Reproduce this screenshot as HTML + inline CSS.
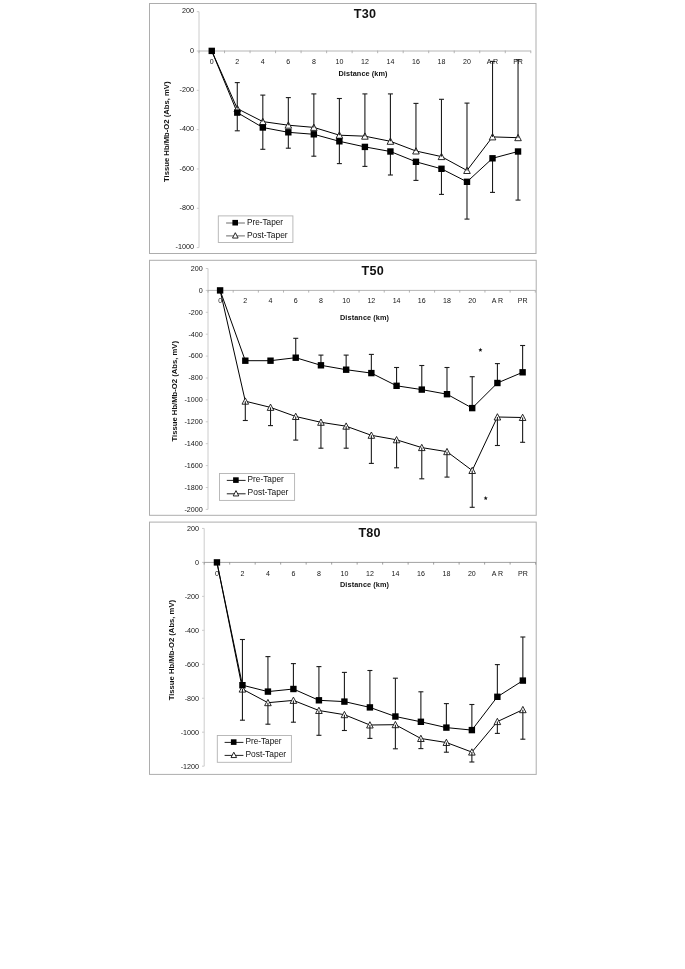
<!DOCTYPE html>
<html><head><meta charset="utf-8"><title>Tissue Hb/Mb-O2 vs Distance</title>
<style>html,body{margin:0;padding:0;background:#fff}body{width:685px;height:969px;overflow:hidden;font-family:"Liberation Sans",sans-serif}</style></head>
<body>
<svg width="685" height="969" viewBox="0 0 685 969" style="display:block;will-change:transform;filter:grayscale(1)">
<rect width="685" height="969" fill="#fff"/>
<rect x="149.5" y="3.5" width="386.50" height="250.00" fill="#fff" stroke="#adadad" stroke-width="1"/>
<line x1="199.0" y1="11.68" x2="199.0" y2="247.60" stroke="#c6c6c6" stroke-width="0.9"/>
<line x1="199.0" y1="51.0" x2="530.8" y2="51.0" stroke="#a8a8a8" stroke-width="0.85"/>
<line x1="196.80" y1="11.68" x2="199.0" y2="11.68" stroke="#c6c6c6" stroke-width="0.9"/>
<text transform="translate(194.00,13.43)" text-anchor="end" font-size="7.2" fill="#141414" font-family="Liberation Sans, sans-serif">200</text>
<line x1="196.80" y1="51.00" x2="199.0" y2="51.00" stroke="#c6c6c6" stroke-width="0.9"/>
<text transform="translate(194.00,52.75)" text-anchor="end" font-size="7.2" fill="#141414" font-family="Liberation Sans, sans-serif">0</text>
<line x1="196.80" y1="90.32" x2="199.0" y2="90.32" stroke="#c6c6c6" stroke-width="0.9"/>
<text transform="translate(194.00,92.07)" text-anchor="end" font-size="7.2" fill="#141414" font-family="Liberation Sans, sans-serif">-200</text>
<line x1="196.80" y1="129.64" x2="199.0" y2="129.64" stroke="#c6c6c6" stroke-width="0.9"/>
<text transform="translate(194.00,131.39)" text-anchor="end" font-size="7.2" fill="#141414" font-family="Liberation Sans, sans-serif">-400</text>
<line x1="196.80" y1="168.96" x2="199.0" y2="168.96" stroke="#c6c6c6" stroke-width="0.9"/>
<text transform="translate(194.00,170.71)" text-anchor="end" font-size="7.2" fill="#141414" font-family="Liberation Sans, sans-serif">-600</text>
<line x1="196.80" y1="208.28" x2="199.0" y2="208.28" stroke="#c6c6c6" stroke-width="0.9"/>
<text transform="translate(194.00,210.03)" text-anchor="end" font-size="7.2" fill="#141414" font-family="Liberation Sans, sans-serif">-800</text>
<line x1="196.80" y1="247.60" x2="199.0" y2="247.60" stroke="#c6c6c6" stroke-width="0.9"/>
<text transform="translate(194.00,249.35)" text-anchor="end" font-size="7.2" fill="#141414" font-family="Liberation Sans, sans-serif">-1000</text>
<line x1="199.00" y1="50.60" x2="199.00" y2="53.20" stroke="#a8a8a8" stroke-width="0.85"/>
<line x1="224.52" y1="50.60" x2="224.52" y2="53.20" stroke="#a8a8a8" stroke-width="0.85"/>
<line x1="250.05" y1="50.60" x2="250.05" y2="53.20" stroke="#a8a8a8" stroke-width="0.85"/>
<line x1="275.57" y1="50.60" x2="275.57" y2="53.20" stroke="#a8a8a8" stroke-width="0.85"/>
<line x1="301.09" y1="50.60" x2="301.09" y2="53.20" stroke="#a8a8a8" stroke-width="0.85"/>
<line x1="326.62" y1="50.60" x2="326.62" y2="53.20" stroke="#a8a8a8" stroke-width="0.85"/>
<line x1="352.14" y1="50.60" x2="352.14" y2="53.20" stroke="#a8a8a8" stroke-width="0.85"/>
<line x1="377.66" y1="50.60" x2="377.66" y2="53.20" stroke="#a8a8a8" stroke-width="0.85"/>
<line x1="403.18" y1="50.60" x2="403.18" y2="53.20" stroke="#a8a8a8" stroke-width="0.85"/>
<line x1="428.71" y1="50.60" x2="428.71" y2="53.20" stroke="#a8a8a8" stroke-width="0.85"/>
<line x1="454.23" y1="50.60" x2="454.23" y2="53.20" stroke="#a8a8a8" stroke-width="0.85"/>
<line x1="479.75" y1="50.60" x2="479.75" y2="53.20" stroke="#a8a8a8" stroke-width="0.85"/>
<line x1="505.28" y1="50.60" x2="505.28" y2="53.20" stroke="#a8a8a8" stroke-width="0.85"/>
<line x1="530.80" y1="50.60" x2="530.80" y2="53.20" stroke="#a8a8a8" stroke-width="0.85"/>
<text transform="translate(211.76,63.70) scale(0.98,1)" text-anchor="middle" font-size="7.2" fill="#141414" font-family="Liberation Sans, sans-serif">0</text>
<text transform="translate(237.28,63.70) scale(0.98,1)" text-anchor="middle" font-size="7.2" fill="#141414" font-family="Liberation Sans, sans-serif">2</text>
<text transform="translate(262.81,63.70) scale(0.98,1)" text-anchor="middle" font-size="7.2" fill="#141414" font-family="Liberation Sans, sans-serif">4</text>
<text transform="translate(288.33,63.70) scale(0.98,1)" text-anchor="middle" font-size="7.2" fill="#141414" font-family="Liberation Sans, sans-serif">6</text>
<text transform="translate(313.85,63.70) scale(0.98,1)" text-anchor="middle" font-size="7.2" fill="#141414" font-family="Liberation Sans, sans-serif">8</text>
<text transform="translate(339.38,63.70) scale(0.98,1)" text-anchor="middle" font-size="7.2" fill="#141414" font-family="Liberation Sans, sans-serif">10</text>
<text transform="translate(364.90,63.70) scale(0.98,1)" text-anchor="middle" font-size="7.2" fill="#141414" font-family="Liberation Sans, sans-serif">12</text>
<text transform="translate(390.42,63.70) scale(0.98,1)" text-anchor="middle" font-size="7.2" fill="#141414" font-family="Liberation Sans, sans-serif">14</text>
<text transform="translate(415.95,63.70) scale(0.98,1)" text-anchor="middle" font-size="7.2" fill="#141414" font-family="Liberation Sans, sans-serif">16</text>
<text transform="translate(441.47,63.70) scale(0.98,1)" text-anchor="middle" font-size="7.2" fill="#141414" font-family="Liberation Sans, sans-serif">18</text>
<text transform="translate(466.99,63.70) scale(0.98,1)" text-anchor="middle" font-size="7.2" fill="#141414" font-family="Liberation Sans, sans-serif">20</text>
<text transform="translate(492.52,63.70) scale(0.98,1)" text-anchor="middle" font-size="7.2" fill="#141414" font-family="Liberation Sans, sans-serif">A R</text>
<text transform="translate(518.04,63.70) scale(0.98,1)" text-anchor="middle" font-size="7.2" fill="#141414" font-family="Liberation Sans, sans-serif">PR</text>
<text x="364.9" y="17.9" text-anchor="middle" font-size="12.6" font-weight="bold" fill="#111" textLength="22.2" lengthAdjust="spacing" font-family="Liberation Sans, sans-serif">T30</text>
<text x="363.0" y="76.1" text-anchor="middle" font-size="7.3" font-weight="bold" fill="#111" textLength="49" lengthAdjust="spacing" font-family="Liberation Sans, sans-serif">Distance (km)</text>
<text transform="translate(169.2,131.7) rotate(-90)" text-anchor="middle" font-size="7.7" font-weight="bold" fill="#111" textLength="100.5" lengthAdjust="spacing" font-family="Liberation Sans, sans-serif">Tissue Hb/Mb-O2 (Abs, mV)</text>
<polyline points="211.76,50.9 237.28,108.6 262.81,121.6 288.33,125.2 313.85,127.4 339.38,135.2 364.90,136.2 390.42,141.3 415.95,151.0 441.47,156.6 466.99,170.5 492.52,136.9 518.04,137.7" fill="none" stroke="#000" stroke-width="1.0" stroke-linejoin="round"/>
<polyline points="211.76,50.9 237.28,112.6 262.81,127.5 288.33,132.3 313.85,134.3 339.38,141.3 364.90,146.9 390.42,151.5 415.95,161.8 441.47,168.8 466.99,181.8 492.52,158.3 518.04,151.5" fill="none" stroke="#000" stroke-width="1.0" stroke-linejoin="round"/>
<path d="M237.28,105.30 L240.58,111.60 L233.98,111.60 Z" fill="#fff" stroke="#111" stroke-width="0.9" stroke-linejoin="miter"/>
<path d="M262.81,118.30 L266.11,124.60 L259.51,124.60 Z" fill="#fff" stroke="#111" stroke-width="0.9" stroke-linejoin="miter"/>
<path d="M288.33,121.90 L291.63,128.20 L285.03,128.20 Z" fill="#fff" stroke="#111" stroke-width="0.9" stroke-linejoin="miter"/>
<path d="M313.85,124.10 L317.15,130.40 L310.55,130.40 Z" fill="#fff" stroke="#111" stroke-width="0.9" stroke-linejoin="miter"/>
<path d="M339.38,131.90 L342.68,138.20 L336.08,138.20 Z" fill="#fff" stroke="#111" stroke-width="0.9" stroke-linejoin="miter"/>
<path d="M364.90,132.90 L368.20,139.20 L361.60,139.20 Z" fill="#fff" stroke="#111" stroke-width="0.9" stroke-linejoin="miter"/>
<path d="M390.42,138.00 L393.72,144.30 L387.12,144.30 Z" fill="#fff" stroke="#111" stroke-width="0.9" stroke-linejoin="miter"/>
<path d="M415.95,147.70 L419.25,154.00 L412.65,154.00 Z" fill="#fff" stroke="#111" stroke-width="0.9" stroke-linejoin="miter"/>
<path d="M441.47,153.30 L444.77,159.60 L438.17,159.60 Z" fill="#fff" stroke="#111" stroke-width="0.9" stroke-linejoin="miter"/>
<path d="M466.99,167.20 L470.29,173.50 L463.69,173.50 Z" fill="#fff" stroke="#111" stroke-width="0.9" stroke-linejoin="miter"/>
<path d="M492.52,133.60 L495.82,139.90 L489.22,139.90 Z" fill="#fff" stroke="#111" stroke-width="0.9" stroke-linejoin="miter"/>
<path d="M518.04,134.40 L521.34,140.70 L514.74,140.70 Z" fill="#fff" stroke="#111" stroke-width="0.9" stroke-linejoin="miter"/>
<line x1="237.28" y1="108.6" x2="237.28" y2="82.6" stroke="#1c1c1c" stroke-width="1.1"/>
<line x1="234.78" y1="82.6" x2="239.78" y2="82.6" stroke="#1c1c1c" stroke-width="1.1"/>
<line x1="237.28" y1="112.6" x2="237.28" y2="130.8" stroke="#1c1c1c" stroke-width="1.1"/>
<line x1="234.78" y1="130.8" x2="239.78" y2="130.8" stroke="#1c1c1c" stroke-width="1.1"/>
<line x1="262.81" y1="121.6" x2="262.81" y2="95.1" stroke="#1c1c1c" stroke-width="1.1"/>
<line x1="260.31" y1="95.1" x2="265.31" y2="95.1" stroke="#1c1c1c" stroke-width="1.1"/>
<line x1="262.81" y1="127.5" x2="262.81" y2="149.3" stroke="#1c1c1c" stroke-width="1.1"/>
<line x1="260.31" y1="149.3" x2="265.31" y2="149.3" stroke="#1c1c1c" stroke-width="1.1"/>
<line x1="288.33" y1="125.2" x2="288.33" y2="97.6" stroke="#1c1c1c" stroke-width="1.1"/>
<line x1="285.83" y1="97.6" x2="290.83" y2="97.6" stroke="#1c1c1c" stroke-width="1.1"/>
<line x1="288.33" y1="132.3" x2="288.33" y2="148.2" stroke="#1c1c1c" stroke-width="1.1"/>
<line x1="285.83" y1="148.2" x2="290.83" y2="148.2" stroke="#1c1c1c" stroke-width="1.1"/>
<line x1="313.85" y1="127.4" x2="313.85" y2="93.9" stroke="#1c1c1c" stroke-width="1.1"/>
<line x1="311.35" y1="93.9" x2="316.35" y2="93.9" stroke="#1c1c1c" stroke-width="1.1"/>
<line x1="313.85" y1="134.3" x2="313.85" y2="156.2" stroke="#1c1c1c" stroke-width="1.1"/>
<line x1="311.35" y1="156.2" x2="316.35" y2="156.2" stroke="#1c1c1c" stroke-width="1.1"/>
<line x1="339.38" y1="135.2" x2="339.38" y2="98.5" stroke="#1c1c1c" stroke-width="1.1"/>
<line x1="336.88" y1="98.5" x2="341.88" y2="98.5" stroke="#1c1c1c" stroke-width="1.1"/>
<line x1="339.38" y1="141.3" x2="339.38" y2="163.6" stroke="#1c1c1c" stroke-width="1.1"/>
<line x1="336.88" y1="163.6" x2="341.88" y2="163.6" stroke="#1c1c1c" stroke-width="1.1"/>
<line x1="364.90" y1="136.2" x2="364.90" y2="93.9" stroke="#1c1c1c" stroke-width="1.1"/>
<line x1="362.40" y1="93.9" x2="367.40" y2="93.9" stroke="#1c1c1c" stroke-width="1.1"/>
<line x1="364.90" y1="146.9" x2="364.90" y2="166.4" stroke="#1c1c1c" stroke-width="1.1"/>
<line x1="362.40" y1="166.4" x2="367.40" y2="166.4" stroke="#1c1c1c" stroke-width="1.1"/>
<line x1="390.42" y1="141.3" x2="390.42" y2="93.9" stroke="#1c1c1c" stroke-width="1.1"/>
<line x1="387.92" y1="93.9" x2="392.92" y2="93.9" stroke="#1c1c1c" stroke-width="1.1"/>
<line x1="390.42" y1="151.5" x2="390.42" y2="175.0" stroke="#1c1c1c" stroke-width="1.1"/>
<line x1="387.92" y1="175.0" x2="392.92" y2="175.0" stroke="#1c1c1c" stroke-width="1.1"/>
<line x1="415.95" y1="151.0" x2="415.95" y2="103.4" stroke="#1c1c1c" stroke-width="1.1"/>
<line x1="413.45" y1="103.4" x2="418.45" y2="103.4" stroke="#1c1c1c" stroke-width="1.1"/>
<line x1="415.95" y1="161.8" x2="415.95" y2="180.4" stroke="#1c1c1c" stroke-width="1.1"/>
<line x1="413.45" y1="180.4" x2="418.45" y2="180.4" stroke="#1c1c1c" stroke-width="1.1"/>
<line x1="441.47" y1="156.6" x2="441.47" y2="99.3" stroke="#1c1c1c" stroke-width="1.1"/>
<line x1="438.97" y1="99.3" x2="443.97" y2="99.3" stroke="#1c1c1c" stroke-width="1.1"/>
<line x1="441.47" y1="168.8" x2="441.47" y2="194.4" stroke="#1c1c1c" stroke-width="1.1"/>
<line x1="438.97" y1="194.4" x2="443.97" y2="194.4" stroke="#1c1c1c" stroke-width="1.1"/>
<line x1="466.99" y1="170.5" x2="466.99" y2="103.1" stroke="#1c1c1c" stroke-width="1.1"/>
<line x1="464.49" y1="103.1" x2="469.49" y2="103.1" stroke="#1c1c1c" stroke-width="1.1"/>
<line x1="466.99" y1="181.8" x2="466.99" y2="219.1" stroke="#1c1c1c" stroke-width="1.1"/>
<line x1="464.49" y1="219.1" x2="469.49" y2="219.1" stroke="#1c1c1c" stroke-width="1.1"/>
<line x1="492.52" y1="136.9" x2="492.52" y2="61.4" stroke="#1c1c1c" stroke-width="1.1"/>
<line x1="490.02" y1="61.4" x2="495.02" y2="61.4" stroke="#1c1c1c" stroke-width="1.1"/>
<line x1="492.52" y1="158.3" x2="492.52" y2="192.4" stroke="#1c1c1c" stroke-width="1.1"/>
<line x1="490.02" y1="192.4" x2="495.02" y2="192.4" stroke="#1c1c1c" stroke-width="1.1"/>
<line x1="518.04" y1="137.7" x2="518.04" y2="59.8" stroke="#1c1c1c" stroke-width="1.1"/>
<line x1="515.54" y1="59.8" x2="520.54" y2="59.8" stroke="#1c1c1c" stroke-width="1.1"/>
<line x1="518.04" y1="151.5" x2="518.04" y2="200.1" stroke="#1c1c1c" stroke-width="1.1"/>
<line x1="515.54" y1="200.1" x2="520.54" y2="200.1" stroke="#1c1c1c" stroke-width="1.1"/>
<rect x="208.56" y="47.70" width="6.4" height="6.4" fill="#000"/>
<rect x="234.08" y="109.40" width="6.4" height="6.4" fill="#000"/>
<rect x="259.61" y="124.30" width="6.4" height="6.4" fill="#000"/>
<rect x="285.13" y="129.10" width="6.4" height="6.4" fill="#000"/>
<rect x="310.65" y="131.10" width="6.4" height="6.4" fill="#000"/>
<rect x="336.18" y="138.10" width="6.4" height="6.4" fill="#000"/>
<rect x="361.70" y="143.70" width="6.4" height="6.4" fill="#000"/>
<rect x="387.22" y="148.30" width="6.4" height="6.4" fill="#000"/>
<rect x="412.75" y="158.60" width="6.4" height="6.4" fill="#000"/>
<rect x="438.27" y="165.60" width="6.4" height="6.4" fill="#000"/>
<rect x="463.79" y="178.60" width="6.4" height="6.4" fill="#000"/>
<rect x="489.32" y="155.10" width="6.4" height="6.4" fill="#000"/>
<rect x="514.84" y="148.30" width="6.4" height="6.4" fill="#000"/>
<rect x="218.3" y="215.9" width="74.60" height="26.60" fill="#fff" stroke="#b2b2b2" stroke-width="0.9"/>
<line x1="226.10000000000002" y1="223.0" x2="244.9" y2="223.0" stroke="#6a6a6a" stroke-width="1"/>
<line x1="226.10000000000002" y1="235.9" x2="244.9" y2="235.9" stroke="#6a6a6a" stroke-width="1"/>
<rect x="232.40" y="219.90" width="5.6" height="5.6" fill="#000"/>
<path d="M235.30,232.69 L238.11,238.05 L232.50,238.05 Z" fill="#fff" stroke="#111" stroke-width="0.9" stroke-linejoin="miter"/>
<text x="246.90" y="224.75" font-size="9" fill="#111" textLength="36.2" lengthAdjust="spacingAndGlyphs" font-family="Liberation Sans, sans-serif">Pre-Taper</text>
<text x="246.90" y="237.50" font-size="9" fill="#111" textLength="40.8" lengthAdjust="spacingAndGlyphs" font-family="Liberation Sans, sans-serif">Post-Taper</text>
<rect x="149.5" y="260.3" width="386.70" height="255.00" fill="#fff" stroke="#adadad" stroke-width="1"/>
<line x1="208.0" y1="268.50" x2="208.0" y2="509.40" stroke="#c6c6c6" stroke-width="0.9"/>
<line x1="208.0" y1="290.4" x2="535.3" y2="290.4" stroke="#a8a8a8" stroke-width="0.85"/>
<line x1="205.80" y1="268.50" x2="208.0" y2="268.50" stroke="#c6c6c6" stroke-width="0.9"/>
<text transform="translate(202.80,270.85)" text-anchor="end" font-size="7.2" fill="#141414" font-family="Liberation Sans, sans-serif">200</text>
<line x1="205.80" y1="290.40" x2="208.0" y2="290.40" stroke="#c6c6c6" stroke-width="0.9"/>
<text transform="translate(202.80,292.75)" text-anchor="end" font-size="7.2" fill="#141414" font-family="Liberation Sans, sans-serif">0</text>
<line x1="205.80" y1="312.30" x2="208.0" y2="312.30" stroke="#c6c6c6" stroke-width="0.9"/>
<text transform="translate(202.80,314.65)" text-anchor="end" font-size="7.2" fill="#141414" font-family="Liberation Sans, sans-serif">-200</text>
<line x1="205.80" y1="334.20" x2="208.0" y2="334.20" stroke="#c6c6c6" stroke-width="0.9"/>
<text transform="translate(202.80,336.55)" text-anchor="end" font-size="7.2" fill="#141414" font-family="Liberation Sans, sans-serif">-400</text>
<line x1="205.80" y1="356.10" x2="208.0" y2="356.10" stroke="#c6c6c6" stroke-width="0.9"/>
<text transform="translate(202.80,358.45)" text-anchor="end" font-size="7.2" fill="#141414" font-family="Liberation Sans, sans-serif">-600</text>
<line x1="205.80" y1="378.00" x2="208.0" y2="378.00" stroke="#c6c6c6" stroke-width="0.9"/>
<text transform="translate(202.80,380.35)" text-anchor="end" font-size="7.2" fill="#141414" font-family="Liberation Sans, sans-serif">-800</text>
<line x1="205.80" y1="399.90" x2="208.0" y2="399.90" stroke="#c6c6c6" stroke-width="0.9"/>
<text transform="translate(202.80,402.25)" text-anchor="end" font-size="7.2" fill="#141414" font-family="Liberation Sans, sans-serif">-1000</text>
<line x1="205.80" y1="421.80" x2="208.0" y2="421.80" stroke="#c6c6c6" stroke-width="0.9"/>
<text transform="translate(202.80,424.15)" text-anchor="end" font-size="7.2" fill="#141414" font-family="Liberation Sans, sans-serif">-1200</text>
<line x1="205.80" y1="443.70" x2="208.0" y2="443.70" stroke="#c6c6c6" stroke-width="0.9"/>
<text transform="translate(202.80,446.05)" text-anchor="end" font-size="7.2" fill="#141414" font-family="Liberation Sans, sans-serif">-1400</text>
<line x1="205.80" y1="465.60" x2="208.0" y2="465.60" stroke="#c6c6c6" stroke-width="0.9"/>
<text transform="translate(202.80,467.95)" text-anchor="end" font-size="7.2" fill="#141414" font-family="Liberation Sans, sans-serif">-1600</text>
<line x1="205.80" y1="487.50" x2="208.0" y2="487.50" stroke="#c6c6c6" stroke-width="0.9"/>
<text transform="translate(202.80,489.85)" text-anchor="end" font-size="7.2" fill="#141414" font-family="Liberation Sans, sans-serif">-1800</text>
<line x1="205.80" y1="509.40" x2="208.0" y2="509.40" stroke="#c6c6c6" stroke-width="0.9"/>
<text transform="translate(202.80,511.75)" text-anchor="end" font-size="7.2" fill="#141414" font-family="Liberation Sans, sans-serif">-2000</text>
<line x1="208.00" y1="290.00" x2="208.00" y2="292.60" stroke="#a8a8a8" stroke-width="0.85"/>
<line x1="233.18" y1="290.00" x2="233.18" y2="292.60" stroke="#a8a8a8" stroke-width="0.85"/>
<line x1="258.35" y1="290.00" x2="258.35" y2="292.60" stroke="#a8a8a8" stroke-width="0.85"/>
<line x1="283.53" y1="290.00" x2="283.53" y2="292.60" stroke="#a8a8a8" stroke-width="0.85"/>
<line x1="308.71" y1="290.00" x2="308.71" y2="292.60" stroke="#a8a8a8" stroke-width="0.85"/>
<line x1="333.88" y1="290.00" x2="333.88" y2="292.60" stroke="#a8a8a8" stroke-width="0.85"/>
<line x1="359.06" y1="290.00" x2="359.06" y2="292.60" stroke="#a8a8a8" stroke-width="0.85"/>
<line x1="384.24" y1="290.00" x2="384.24" y2="292.60" stroke="#a8a8a8" stroke-width="0.85"/>
<line x1="409.42" y1="290.00" x2="409.42" y2="292.60" stroke="#a8a8a8" stroke-width="0.85"/>
<line x1="434.59" y1="290.00" x2="434.59" y2="292.60" stroke="#a8a8a8" stroke-width="0.85"/>
<line x1="459.77" y1="290.00" x2="459.77" y2="292.60" stroke="#a8a8a8" stroke-width="0.85"/>
<line x1="484.95" y1="290.00" x2="484.95" y2="292.60" stroke="#a8a8a8" stroke-width="0.85"/>
<line x1="510.12" y1="290.00" x2="510.12" y2="292.60" stroke="#a8a8a8" stroke-width="0.85"/>
<line x1="535.30" y1="290.00" x2="535.30" y2="292.60" stroke="#a8a8a8" stroke-width="0.85"/>
<text transform="translate(220.10,303.40) scale(0.98,1)" text-anchor="middle" font-size="7.2" fill="#141414" font-family="Liberation Sans, sans-serif">0</text>
<text transform="translate(245.31,303.40) scale(0.98,1)" text-anchor="middle" font-size="7.2" fill="#141414" font-family="Liberation Sans, sans-serif">2</text>
<text transform="translate(270.52,303.40) scale(0.98,1)" text-anchor="middle" font-size="7.2" fill="#141414" font-family="Liberation Sans, sans-serif">4</text>
<text transform="translate(295.73,303.40) scale(0.98,1)" text-anchor="middle" font-size="7.2" fill="#141414" font-family="Liberation Sans, sans-serif">6</text>
<text transform="translate(320.94,303.40) scale(0.98,1)" text-anchor="middle" font-size="7.2" fill="#141414" font-family="Liberation Sans, sans-serif">8</text>
<text transform="translate(346.15,303.40) scale(0.98,1)" text-anchor="middle" font-size="7.2" fill="#141414" font-family="Liberation Sans, sans-serif">10</text>
<text transform="translate(371.36,303.40) scale(0.98,1)" text-anchor="middle" font-size="7.2" fill="#141414" font-family="Liberation Sans, sans-serif">12</text>
<text transform="translate(396.57,303.40) scale(0.98,1)" text-anchor="middle" font-size="7.2" fill="#141414" font-family="Liberation Sans, sans-serif">14</text>
<text transform="translate(421.78,303.40) scale(0.98,1)" text-anchor="middle" font-size="7.2" fill="#141414" font-family="Liberation Sans, sans-serif">16</text>
<text transform="translate(446.99,303.40) scale(0.98,1)" text-anchor="middle" font-size="7.2" fill="#141414" font-family="Liberation Sans, sans-serif">18</text>
<text transform="translate(472.20,303.40) scale(0.98,1)" text-anchor="middle" font-size="7.2" fill="#141414" font-family="Liberation Sans, sans-serif">20</text>
<text transform="translate(497.41,303.40) scale(0.98,1)" text-anchor="middle" font-size="7.2" fill="#141414" font-family="Liberation Sans, sans-serif">A R</text>
<text transform="translate(522.62,303.40) scale(0.98,1)" text-anchor="middle" font-size="7.2" fill="#141414" font-family="Liberation Sans, sans-serif">PR</text>
<text x="372.7" y="275.1" text-anchor="middle" font-size="12.6" font-weight="bold" fill="#111" textLength="22.2" lengthAdjust="spacing" font-family="Liberation Sans, sans-serif">T50</text>
<text x="364.5" y="320.3" text-anchor="middle" font-size="7.3" font-weight="bold" fill="#111" textLength="49" lengthAdjust="spacing" font-family="Liberation Sans, sans-serif">Distance (km)</text>
<text transform="translate(177.2,391.2) rotate(-90)" text-anchor="middle" font-size="7.7" font-weight="bold" fill="#111" textLength="100.5" lengthAdjust="spacing" font-family="Liberation Sans, sans-serif">Tissue Hb/Mb-O2 (Abs, mV)</text>
<polyline points="220.10,290.4 245.31,401.2 270.52,407.4 295.73,416.5 320.94,422.3 346.15,426.2 371.36,435.3 396.57,439.8 421.78,447.6 446.99,451.7 472.20,470.5 497.41,417.0 522.62,417.5" fill="none" stroke="#000" stroke-width="1.0" stroke-linejoin="round"/>
<polyline points="220.10,290.4 245.31,360.7 270.52,360.7 295.73,357.7 320.94,365.3 346.15,369.7 371.36,373.1 396.57,385.8 421.78,389.6 446.99,394.2 472.20,408.1 497.41,383.0 522.62,372.3" fill="none" stroke="#000" stroke-width="1.0" stroke-linejoin="round"/>
<path d="M245.31,397.90 L248.61,404.20 L242.01,404.20 Z" fill="#fff" stroke="#111" stroke-width="0.9" stroke-linejoin="miter"/>
<path d="M270.52,404.10 L273.82,410.40 L267.22,410.40 Z" fill="#fff" stroke="#111" stroke-width="0.9" stroke-linejoin="miter"/>
<path d="M295.73,413.20 L299.03,419.50 L292.43,419.50 Z" fill="#fff" stroke="#111" stroke-width="0.9" stroke-linejoin="miter"/>
<path d="M320.94,419.00 L324.24,425.30 L317.64,425.30 Z" fill="#fff" stroke="#111" stroke-width="0.9" stroke-linejoin="miter"/>
<path d="M346.15,422.90 L349.45,429.20 L342.85,429.20 Z" fill="#fff" stroke="#111" stroke-width="0.9" stroke-linejoin="miter"/>
<path d="M371.36,432.00 L374.66,438.30 L368.06,438.30 Z" fill="#fff" stroke="#111" stroke-width="0.9" stroke-linejoin="miter"/>
<path d="M396.57,436.50 L399.87,442.80 L393.27,442.80 Z" fill="#fff" stroke="#111" stroke-width="0.9" stroke-linejoin="miter"/>
<path d="M421.78,444.30 L425.08,450.60 L418.48,450.60 Z" fill="#fff" stroke="#111" stroke-width="0.9" stroke-linejoin="miter"/>
<path d="M446.99,448.40 L450.29,454.70 L443.69,454.70 Z" fill="#fff" stroke="#111" stroke-width="0.9" stroke-linejoin="miter"/>
<path d="M472.20,467.20 L475.50,473.50 L468.90,473.50 Z" fill="#fff" stroke="#111" stroke-width="0.9" stroke-linejoin="miter"/>
<path d="M497.41,413.70 L500.71,420.00 L494.11,420.00 Z" fill="#fff" stroke="#111" stroke-width="0.9" stroke-linejoin="miter"/>
<path d="M522.62,414.20 L525.92,420.50 L519.32,420.50 Z" fill="#fff" stroke="#111" stroke-width="0.9" stroke-linejoin="miter"/>
<line x1="245.31" y1="401.2" x2="245.31" y2="420.5" stroke="#1c1c1c" stroke-width="1.1"/>
<line x1="242.81" y1="420.5" x2="247.81" y2="420.5" stroke="#1c1c1c" stroke-width="1.1"/>
<line x1="270.52" y1="407.4" x2="270.52" y2="425.6" stroke="#1c1c1c" stroke-width="1.1"/>
<line x1="268.02" y1="425.6" x2="273.02" y2="425.6" stroke="#1c1c1c" stroke-width="1.1"/>
<line x1="295.73" y1="357.7" x2="295.73" y2="338.3" stroke="#1c1c1c" stroke-width="1.1"/>
<line x1="293.23" y1="338.3" x2="298.23" y2="338.3" stroke="#1c1c1c" stroke-width="1.1"/>
<line x1="295.73" y1="416.5" x2="295.73" y2="440.1" stroke="#1c1c1c" stroke-width="1.1"/>
<line x1="293.23" y1="440.1" x2="298.23" y2="440.1" stroke="#1c1c1c" stroke-width="1.1"/>
<line x1="320.94" y1="365.3" x2="320.94" y2="355.1" stroke="#1c1c1c" stroke-width="1.1"/>
<line x1="318.44" y1="355.1" x2="323.44" y2="355.1" stroke="#1c1c1c" stroke-width="1.1"/>
<line x1="320.94" y1="422.3" x2="320.94" y2="448.2" stroke="#1c1c1c" stroke-width="1.1"/>
<line x1="318.44" y1="448.2" x2="323.44" y2="448.2" stroke="#1c1c1c" stroke-width="1.1"/>
<line x1="346.15" y1="369.7" x2="346.15" y2="355.1" stroke="#1c1c1c" stroke-width="1.1"/>
<line x1="343.65" y1="355.1" x2="348.65" y2="355.1" stroke="#1c1c1c" stroke-width="1.1"/>
<line x1="346.15" y1="426.2" x2="346.15" y2="448.2" stroke="#1c1c1c" stroke-width="1.1"/>
<line x1="343.65" y1="448.2" x2="348.65" y2="448.2" stroke="#1c1c1c" stroke-width="1.1"/>
<line x1="371.36" y1="373.1" x2="371.36" y2="354.4" stroke="#1c1c1c" stroke-width="1.1"/>
<line x1="368.86" y1="354.4" x2="373.86" y2="354.4" stroke="#1c1c1c" stroke-width="1.1"/>
<line x1="371.36" y1="435.3" x2="371.36" y2="463.4" stroke="#1c1c1c" stroke-width="1.1"/>
<line x1="368.86" y1="463.4" x2="373.86" y2="463.4" stroke="#1c1c1c" stroke-width="1.1"/>
<line x1="396.57" y1="385.8" x2="396.57" y2="367.5" stroke="#1c1c1c" stroke-width="1.1"/>
<line x1="394.07" y1="367.5" x2="399.07" y2="367.5" stroke="#1c1c1c" stroke-width="1.1"/>
<line x1="396.57" y1="439.8" x2="396.57" y2="467.8" stroke="#1c1c1c" stroke-width="1.1"/>
<line x1="394.07" y1="467.8" x2="399.07" y2="467.8" stroke="#1c1c1c" stroke-width="1.1"/>
<line x1="421.78" y1="389.6" x2="421.78" y2="365.5" stroke="#1c1c1c" stroke-width="1.1"/>
<line x1="419.28" y1="365.5" x2="424.28" y2="365.5" stroke="#1c1c1c" stroke-width="1.1"/>
<line x1="421.78" y1="447.6" x2="421.78" y2="478.8" stroke="#1c1c1c" stroke-width="1.1"/>
<line x1="419.28" y1="478.8" x2="424.28" y2="478.8" stroke="#1c1c1c" stroke-width="1.1"/>
<line x1="446.99" y1="394.2" x2="446.99" y2="367.5" stroke="#1c1c1c" stroke-width="1.1"/>
<line x1="444.49" y1="367.5" x2="449.49" y2="367.5" stroke="#1c1c1c" stroke-width="1.1"/>
<line x1="446.99" y1="451.7" x2="446.99" y2="477.1" stroke="#1c1c1c" stroke-width="1.1"/>
<line x1="444.49" y1="477.1" x2="449.49" y2="477.1" stroke="#1c1c1c" stroke-width="1.1"/>
<line x1="472.20" y1="408.1" x2="472.20" y2="376.7" stroke="#1c1c1c" stroke-width="1.1"/>
<line x1="469.70" y1="376.7" x2="474.70" y2="376.7" stroke="#1c1c1c" stroke-width="1.1"/>
<line x1="472.20" y1="470.5" x2="472.20" y2="507.3" stroke="#1c1c1c" stroke-width="1.1"/>
<line x1="469.70" y1="507.3" x2="474.70" y2="507.3" stroke="#1c1c1c" stroke-width="1.1"/>
<line x1="497.41" y1="383.0" x2="497.41" y2="363.6" stroke="#1c1c1c" stroke-width="1.1"/>
<line x1="494.91" y1="363.6" x2="499.91" y2="363.6" stroke="#1c1c1c" stroke-width="1.1"/>
<line x1="497.41" y1="417.0" x2="497.41" y2="445.5" stroke="#1c1c1c" stroke-width="1.1"/>
<line x1="494.91" y1="445.5" x2="499.91" y2="445.5" stroke="#1c1c1c" stroke-width="1.1"/>
<line x1="522.62" y1="372.3" x2="522.62" y2="345.5" stroke="#1c1c1c" stroke-width="1.1"/>
<line x1="520.12" y1="345.5" x2="525.12" y2="345.5" stroke="#1c1c1c" stroke-width="1.1"/>
<line x1="522.62" y1="417.5" x2="522.62" y2="442.3" stroke="#1c1c1c" stroke-width="1.1"/>
<line x1="520.12" y1="442.3" x2="525.12" y2="442.3" stroke="#1c1c1c" stroke-width="1.1"/>
<rect x="216.90" y="287.20" width="6.4" height="6.4" fill="#000"/>
<rect x="242.11" y="357.50" width="6.4" height="6.4" fill="#000"/>
<rect x="267.32" y="357.50" width="6.4" height="6.4" fill="#000"/>
<rect x="292.53" y="354.50" width="6.4" height="6.4" fill="#000"/>
<rect x="317.74" y="362.10" width="6.4" height="6.4" fill="#000"/>
<rect x="342.95" y="366.50" width="6.4" height="6.4" fill="#000"/>
<rect x="368.16" y="369.90" width="6.4" height="6.4" fill="#000"/>
<rect x="393.37" y="382.60" width="6.4" height="6.4" fill="#000"/>
<rect x="418.58" y="386.40" width="6.4" height="6.4" fill="#000"/>
<rect x="443.79" y="391.00" width="6.4" height="6.4" fill="#000"/>
<rect x="469.00" y="404.90" width="6.4" height="6.4" fill="#000"/>
<rect x="494.21" y="379.80" width="6.4" height="6.4" fill="#000"/>
<rect x="519.42" y="369.10" width="6.4" height="6.4" fill="#000"/>
<rect x="219.5" y="473.5" width="75.10" height="26.90" fill="#fff" stroke="#b2b2b2" stroke-width="0.9"/>
<line x1="226.8" y1="480.4" x2="245.6" y2="480.4" stroke="#222" stroke-width="1"/>
<line x1="226.8" y1="493.8" x2="245.6" y2="493.8" stroke="#222" stroke-width="1"/>
<rect x="233.10" y="477.30" width="5.6" height="5.6" fill="#000"/>
<path d="M236.00,490.60 L238.81,495.95 L233.19,495.95 Z" fill="#fff" stroke="#111" stroke-width="0.9" stroke-linejoin="miter"/>
<text x="247.60" y="482.15" font-size="9" fill="#111" textLength="36.2" lengthAdjust="spacingAndGlyphs" font-family="Liberation Sans, sans-serif">Pre-Taper</text>
<text x="247.60" y="495.40" font-size="9" fill="#111" textLength="40.8" lengthAdjust="spacingAndGlyphs" font-family="Liberation Sans, sans-serif">Post-Taper</text>
<polygon points="480.40,347.80 480.99,349.14 482.44,349.29 481.35,350.26 481.66,351.69 480.40,350.95 479.14,351.69 479.45,350.26 478.36,349.29 479.81,349.14" fill="#111"/>
<polygon points="485.70,496.10 486.29,497.44 487.74,497.59 486.65,498.56 486.96,499.99 485.70,499.25 484.44,499.99 484.75,498.56 483.66,497.59 485.11,497.44" fill="#111"/>
<rect x="149.5" y="522.1" width="386.70" height="252.30" fill="#fff" stroke="#adadad" stroke-width="1"/>
<line x1="204.2" y1="528.44" x2="204.2" y2="766.16" stroke="#c6c6c6" stroke-width="0.9"/>
<line x1="204.2" y1="562.4" x2="535.6" y2="562.4" stroke="#909090" stroke-width="0.85"/>
<line x1="202.00" y1="528.44" x2="204.2" y2="528.44" stroke="#c6c6c6" stroke-width="0.9"/>
<text transform="translate(199.10,530.79)" text-anchor="end" font-size="7.2" fill="#141414" font-family="Liberation Sans, sans-serif">200</text>
<line x1="202.00" y1="562.40" x2="204.2" y2="562.40" stroke="#c6c6c6" stroke-width="0.9"/>
<text transform="translate(199.10,564.75)" text-anchor="end" font-size="7.2" fill="#141414" font-family="Liberation Sans, sans-serif">0</text>
<line x1="202.00" y1="596.36" x2="204.2" y2="596.36" stroke="#c6c6c6" stroke-width="0.9"/>
<text transform="translate(199.10,598.71)" text-anchor="end" font-size="7.2" fill="#141414" font-family="Liberation Sans, sans-serif">-200</text>
<line x1="202.00" y1="630.32" x2="204.2" y2="630.32" stroke="#c6c6c6" stroke-width="0.9"/>
<text transform="translate(199.10,632.67)" text-anchor="end" font-size="7.2" fill="#141414" font-family="Liberation Sans, sans-serif">-400</text>
<line x1="202.00" y1="664.28" x2="204.2" y2="664.28" stroke="#c6c6c6" stroke-width="0.9"/>
<text transform="translate(199.10,666.63)" text-anchor="end" font-size="7.2" fill="#141414" font-family="Liberation Sans, sans-serif">-600</text>
<line x1="202.00" y1="698.24" x2="204.2" y2="698.24" stroke="#c6c6c6" stroke-width="0.9"/>
<text transform="translate(199.10,700.59)" text-anchor="end" font-size="7.2" fill="#141414" font-family="Liberation Sans, sans-serif">-800</text>
<line x1="202.00" y1="732.20" x2="204.2" y2="732.20" stroke="#c6c6c6" stroke-width="0.9"/>
<text transform="translate(199.10,734.55)" text-anchor="end" font-size="7.2" fill="#141414" font-family="Liberation Sans, sans-serif">-1000</text>
<line x1="202.00" y1="766.16" x2="204.2" y2="766.16" stroke="#c6c6c6" stroke-width="0.9"/>
<text transform="translate(199.10,768.51)" text-anchor="end" font-size="7.2" fill="#141414" font-family="Liberation Sans, sans-serif">-1200</text>
<line x1="204.20" y1="562.00" x2="204.20" y2="564.60" stroke="#909090" stroke-width="0.85"/>
<line x1="229.69" y1="562.00" x2="229.69" y2="564.60" stroke="#909090" stroke-width="0.85"/>
<line x1="255.18" y1="562.00" x2="255.18" y2="564.60" stroke="#909090" stroke-width="0.85"/>
<line x1="280.68" y1="562.00" x2="280.68" y2="564.60" stroke="#909090" stroke-width="0.85"/>
<line x1="306.17" y1="562.00" x2="306.17" y2="564.60" stroke="#909090" stroke-width="0.85"/>
<line x1="331.66" y1="562.00" x2="331.66" y2="564.60" stroke="#909090" stroke-width="0.85"/>
<line x1="357.15" y1="562.00" x2="357.15" y2="564.60" stroke="#909090" stroke-width="0.85"/>
<line x1="382.65" y1="562.00" x2="382.65" y2="564.60" stroke="#909090" stroke-width="0.85"/>
<line x1="408.14" y1="562.00" x2="408.14" y2="564.60" stroke="#909090" stroke-width="0.85"/>
<line x1="433.63" y1="562.00" x2="433.63" y2="564.60" stroke="#909090" stroke-width="0.85"/>
<line x1="459.12" y1="562.00" x2="459.12" y2="564.60" stroke="#909090" stroke-width="0.85"/>
<line x1="484.62" y1="562.00" x2="484.62" y2="564.60" stroke="#909090" stroke-width="0.85"/>
<line x1="510.11" y1="562.00" x2="510.11" y2="564.60" stroke="#909090" stroke-width="0.85"/>
<line x1="535.60" y1="562.00" x2="535.60" y2="564.60" stroke="#909090" stroke-width="0.85"/>
<text transform="translate(216.95,575.70) scale(0.98,1)" text-anchor="middle" font-size="7.2" fill="#141414" font-family="Liberation Sans, sans-serif">0</text>
<text transform="translate(242.44,575.70) scale(0.98,1)" text-anchor="middle" font-size="7.2" fill="#141414" font-family="Liberation Sans, sans-serif">2</text>
<text transform="translate(267.93,575.70) scale(0.98,1)" text-anchor="middle" font-size="7.2" fill="#141414" font-family="Liberation Sans, sans-serif">4</text>
<text transform="translate(293.42,575.70) scale(0.98,1)" text-anchor="middle" font-size="7.2" fill="#141414" font-family="Liberation Sans, sans-serif">6</text>
<text transform="translate(318.92,575.70) scale(0.98,1)" text-anchor="middle" font-size="7.2" fill="#141414" font-family="Liberation Sans, sans-serif">8</text>
<text transform="translate(344.41,575.70) scale(0.98,1)" text-anchor="middle" font-size="7.2" fill="#141414" font-family="Liberation Sans, sans-serif">10</text>
<text transform="translate(369.90,575.70) scale(0.98,1)" text-anchor="middle" font-size="7.2" fill="#141414" font-family="Liberation Sans, sans-serif">12</text>
<text transform="translate(395.39,575.70) scale(0.98,1)" text-anchor="middle" font-size="7.2" fill="#141414" font-family="Liberation Sans, sans-serif">14</text>
<text transform="translate(420.88,575.70) scale(0.98,1)" text-anchor="middle" font-size="7.2" fill="#141414" font-family="Liberation Sans, sans-serif">16</text>
<text transform="translate(446.38,575.70) scale(0.98,1)" text-anchor="middle" font-size="7.2" fill="#141414" font-family="Liberation Sans, sans-serif">18</text>
<text transform="translate(471.87,575.70) scale(0.98,1)" text-anchor="middle" font-size="7.2" fill="#141414" font-family="Liberation Sans, sans-serif">20</text>
<text transform="translate(497.36,575.70) scale(0.98,1)" text-anchor="middle" font-size="7.2" fill="#141414" font-family="Liberation Sans, sans-serif">A R</text>
<text transform="translate(522.85,575.70) scale(0.98,1)" text-anchor="middle" font-size="7.2" fill="#141414" font-family="Liberation Sans, sans-serif">PR</text>
<text x="369.5" y="536.7" text-anchor="middle" font-size="12.6" font-weight="bold" fill="#111" textLength="22.2" lengthAdjust="spacing" font-family="Liberation Sans, sans-serif">T80</text>
<text x="364.5" y="586.9" text-anchor="middle" font-size="7.3" font-weight="bold" fill="#111" textLength="49" lengthAdjust="spacing" font-family="Liberation Sans, sans-serif">Distance (km)</text>
<text transform="translate(173.6,650.1) rotate(-90)" text-anchor="middle" font-size="7.7" font-weight="bold" fill="#111" textLength="100.5" lengthAdjust="spacing" font-family="Liberation Sans, sans-serif">Tissue Hb/Mb-O2 (Abs, mV)</text>
<polyline points="216.95,562.4 242.44,689.1 267.93,702.7 293.42,700.4 318.92,710.5 344.41,714.7 369.90,725.0 395.39,724.7 420.88,738.5 446.38,742.5 471.87,752.1 497.36,721.6 522.85,709.7" fill="none" stroke="#000" stroke-width="1.0" stroke-linejoin="round"/>
<polyline points="216.95,562.4 242.44,685.2 267.93,691.6 293.42,689.0 318.92,700.3 344.41,701.6 369.90,707.4 395.39,716.5 420.88,721.8 446.38,727.6 471.87,730.1 497.36,696.8 522.85,680.6" fill="none" stroke="#000" stroke-width="1.0" stroke-linejoin="round"/>
<path d="M242.44,685.80 L245.74,692.10 L239.14,692.10 Z" fill="#fff" stroke="#111" stroke-width="0.9" stroke-linejoin="miter"/>
<path d="M267.93,699.40 L271.23,705.70 L264.63,705.70 Z" fill="#fff" stroke="#111" stroke-width="0.9" stroke-linejoin="miter"/>
<path d="M293.42,697.10 L296.72,703.40 L290.12,703.40 Z" fill="#fff" stroke="#111" stroke-width="0.9" stroke-linejoin="miter"/>
<path d="M318.92,707.20 L322.22,713.50 L315.62,713.50 Z" fill="#fff" stroke="#111" stroke-width="0.9" stroke-linejoin="miter"/>
<path d="M344.41,711.40 L347.71,717.70 L341.11,717.70 Z" fill="#fff" stroke="#111" stroke-width="0.9" stroke-linejoin="miter"/>
<path d="M369.90,721.70 L373.20,728.00 L366.60,728.00 Z" fill="#fff" stroke="#111" stroke-width="0.9" stroke-linejoin="miter"/>
<path d="M395.39,721.40 L398.69,727.70 L392.09,727.70 Z" fill="#fff" stroke="#111" stroke-width="0.9" stroke-linejoin="miter"/>
<path d="M420.88,735.20 L424.18,741.50 L417.58,741.50 Z" fill="#fff" stroke="#111" stroke-width="0.9" stroke-linejoin="miter"/>
<path d="M446.38,739.20 L449.68,745.50 L443.08,745.50 Z" fill="#fff" stroke="#111" stroke-width="0.9" stroke-linejoin="miter"/>
<path d="M471.87,748.80 L475.17,755.10 L468.57,755.10 Z" fill="#fff" stroke="#111" stroke-width="0.9" stroke-linejoin="miter"/>
<path d="M497.36,718.30 L500.66,724.60 L494.06,724.60 Z" fill="#fff" stroke="#111" stroke-width="0.9" stroke-linejoin="miter"/>
<path d="M522.85,706.40 L526.15,712.70 L519.55,712.70 Z" fill="#fff" stroke="#111" stroke-width="0.9" stroke-linejoin="miter"/>
<line x1="242.44" y1="685.2" x2="242.44" y2="639.5" stroke="#1c1c1c" stroke-width="1.1"/>
<line x1="239.94" y1="639.5" x2="244.94" y2="639.5" stroke="#1c1c1c" stroke-width="1.1"/>
<line x1="242.44" y1="689.1" x2="242.44" y2="720.2" stroke="#1c1c1c" stroke-width="1.1"/>
<line x1="239.94" y1="720.2" x2="244.94" y2="720.2" stroke="#1c1c1c" stroke-width="1.1"/>
<line x1="267.93" y1="691.6" x2="267.93" y2="656.6" stroke="#1c1c1c" stroke-width="1.1"/>
<line x1="265.43" y1="656.6" x2="270.43" y2="656.6" stroke="#1c1c1c" stroke-width="1.1"/>
<line x1="267.93" y1="702.7" x2="267.93" y2="724.2" stroke="#1c1c1c" stroke-width="1.1"/>
<line x1="265.43" y1="724.2" x2="270.43" y2="724.2" stroke="#1c1c1c" stroke-width="1.1"/>
<line x1="293.42" y1="689.0" x2="293.42" y2="663.6" stroke="#1c1c1c" stroke-width="1.1"/>
<line x1="290.92" y1="663.6" x2="295.92" y2="663.6" stroke="#1c1c1c" stroke-width="1.1"/>
<line x1="293.42" y1="700.4" x2="293.42" y2="722.2" stroke="#1c1c1c" stroke-width="1.1"/>
<line x1="290.92" y1="722.2" x2="295.92" y2="722.2" stroke="#1c1c1c" stroke-width="1.1"/>
<line x1="318.92" y1="700.3" x2="318.92" y2="666.6" stroke="#1c1c1c" stroke-width="1.1"/>
<line x1="316.42" y1="666.6" x2="321.42" y2="666.6" stroke="#1c1c1c" stroke-width="1.1"/>
<line x1="318.92" y1="710.5" x2="318.92" y2="735.3" stroke="#1c1c1c" stroke-width="1.1"/>
<line x1="316.42" y1="735.3" x2="321.42" y2="735.3" stroke="#1c1c1c" stroke-width="1.1"/>
<line x1="344.41" y1="701.6" x2="344.41" y2="672.4" stroke="#1c1c1c" stroke-width="1.1"/>
<line x1="341.91" y1="672.4" x2="346.91" y2="672.4" stroke="#1c1c1c" stroke-width="1.1"/>
<line x1="344.41" y1="714.7" x2="344.41" y2="730.5" stroke="#1c1c1c" stroke-width="1.1"/>
<line x1="341.91" y1="730.5" x2="346.91" y2="730.5" stroke="#1c1c1c" stroke-width="1.1"/>
<line x1="369.90" y1="707.4" x2="369.90" y2="670.5" stroke="#1c1c1c" stroke-width="1.1"/>
<line x1="367.40" y1="670.5" x2="372.40" y2="670.5" stroke="#1c1c1c" stroke-width="1.1"/>
<line x1="369.90" y1="725.0" x2="369.90" y2="738.4" stroke="#1c1c1c" stroke-width="1.1"/>
<line x1="367.40" y1="738.4" x2="372.40" y2="738.4" stroke="#1c1c1c" stroke-width="1.1"/>
<line x1="395.39" y1="716.5" x2="395.39" y2="678.2" stroke="#1c1c1c" stroke-width="1.1"/>
<line x1="392.89" y1="678.2" x2="397.89" y2="678.2" stroke="#1c1c1c" stroke-width="1.1"/>
<line x1="395.39" y1="724.7" x2="395.39" y2="748.8" stroke="#1c1c1c" stroke-width="1.1"/>
<line x1="392.89" y1="748.8" x2="397.89" y2="748.8" stroke="#1c1c1c" stroke-width="1.1"/>
<line x1="420.88" y1="721.8" x2="420.88" y2="691.8" stroke="#1c1c1c" stroke-width="1.1"/>
<line x1="418.38" y1="691.8" x2="423.38" y2="691.8" stroke="#1c1c1c" stroke-width="1.1"/>
<line x1="420.88" y1="738.5" x2="420.88" y2="748.6" stroke="#1c1c1c" stroke-width="1.1"/>
<line x1="418.38" y1="748.6" x2="423.38" y2="748.6" stroke="#1c1c1c" stroke-width="1.1"/>
<line x1="446.38" y1="727.6" x2="446.38" y2="703.6" stroke="#1c1c1c" stroke-width="1.1"/>
<line x1="443.88" y1="703.6" x2="448.88" y2="703.6" stroke="#1c1c1c" stroke-width="1.1"/>
<line x1="446.38" y1="742.5" x2="446.38" y2="752.2" stroke="#1c1c1c" stroke-width="1.1"/>
<line x1="443.88" y1="752.2" x2="448.88" y2="752.2" stroke="#1c1c1c" stroke-width="1.1"/>
<line x1="471.87" y1="730.1" x2="471.87" y2="704.5" stroke="#1c1c1c" stroke-width="1.1"/>
<line x1="469.37" y1="704.5" x2="474.37" y2="704.5" stroke="#1c1c1c" stroke-width="1.1"/>
<line x1="471.87" y1="752.1" x2="471.87" y2="762.0" stroke="#1c1c1c" stroke-width="1.1"/>
<line x1="469.37" y1="762.0" x2="474.37" y2="762.0" stroke="#1c1c1c" stroke-width="1.1"/>
<line x1="497.36" y1="696.8" x2="497.36" y2="664.6" stroke="#1c1c1c" stroke-width="1.1"/>
<line x1="494.86" y1="664.6" x2="499.86" y2="664.6" stroke="#1c1c1c" stroke-width="1.1"/>
<line x1="497.36" y1="721.6" x2="497.36" y2="733.4" stroke="#1c1c1c" stroke-width="1.1"/>
<line x1="494.86" y1="733.4" x2="499.86" y2="733.4" stroke="#1c1c1c" stroke-width="1.1"/>
<line x1="522.85" y1="680.6" x2="522.85" y2="637.0" stroke="#1c1c1c" stroke-width="1.1"/>
<line x1="520.35" y1="637.0" x2="525.35" y2="637.0" stroke="#1c1c1c" stroke-width="1.1"/>
<line x1="522.85" y1="709.7" x2="522.85" y2="739.2" stroke="#1c1c1c" stroke-width="1.1"/>
<line x1="520.35" y1="739.2" x2="525.35" y2="739.2" stroke="#1c1c1c" stroke-width="1.1"/>
<rect x="213.75" y="559.20" width="6.4" height="6.4" fill="#000"/>
<rect x="239.24" y="682.00" width="6.4" height="6.4" fill="#000"/>
<rect x="264.73" y="688.40" width="6.4" height="6.4" fill="#000"/>
<rect x="290.22" y="685.80" width="6.4" height="6.4" fill="#000"/>
<rect x="315.72" y="697.10" width="6.4" height="6.4" fill="#000"/>
<rect x="341.21" y="698.40" width="6.4" height="6.4" fill="#000"/>
<rect x="366.70" y="704.20" width="6.4" height="6.4" fill="#000"/>
<rect x="392.19" y="713.30" width="6.4" height="6.4" fill="#000"/>
<rect x="417.68" y="718.60" width="6.4" height="6.4" fill="#000"/>
<rect x="443.18" y="724.40" width="6.4" height="6.4" fill="#000"/>
<rect x="468.67" y="726.90" width="6.4" height="6.4" fill="#000"/>
<rect x="494.16" y="693.60" width="6.4" height="6.4" fill="#000"/>
<rect x="519.65" y="677.40" width="6.4" height="6.4" fill="#000"/>
<rect x="217.3" y="735.5" width="74.10" height="26.80" fill="#fff" stroke="#b2b2b2" stroke-width="0.9"/>
<line x1="224.60000000000002" y1="742.4" x2="243.4" y2="742.4" stroke="#222" stroke-width="1"/>
<line x1="224.60000000000002" y1="755.4" x2="243.4" y2="755.4" stroke="#222" stroke-width="1"/>
<rect x="230.90" y="739.30" width="5.6" height="5.6" fill="#000"/>
<path d="M233.80,752.20 L236.61,757.55 L231.00,757.55 Z" fill="#fff" stroke="#111" stroke-width="0.9" stroke-linejoin="miter"/>
<text x="245.40" y="744.15" font-size="9" fill="#111" textLength="36.2" lengthAdjust="spacingAndGlyphs" font-family="Liberation Sans, sans-serif">Pre-Taper</text>
<text x="245.40" y="757.00" font-size="9" fill="#111" textLength="40.8" lengthAdjust="spacingAndGlyphs" font-family="Liberation Sans, sans-serif">Post-Taper</text>
</svg>
</body></html>
